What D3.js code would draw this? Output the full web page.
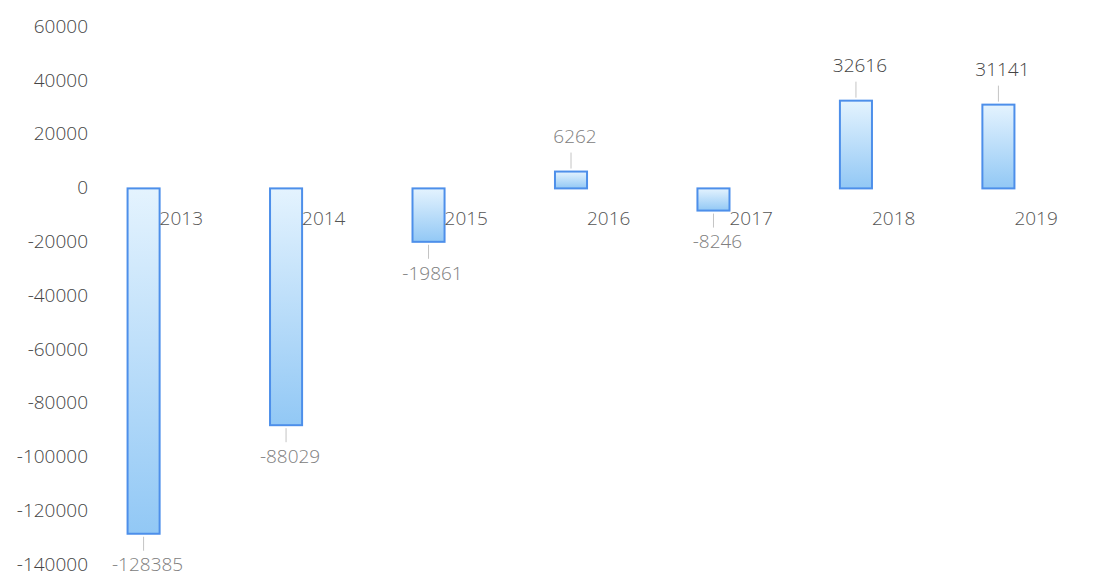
<!DOCTYPE html>
<html>
<head>
<meta charset="utf-8">
<script src="https://cdn.jsdelivr.net/npm/d3@7"></script>
<style>
    body { margin: 0; background: #fff; }
    text { font-family: "Open Sans", sans-serif; }
</style>
</head>
<body>
<div id="chart"></div>
<script>
// Chart data
const years = ['2013', '2014', '2015', '2016', '2017', '2018', '2019'];
const values = [-128385, -88029, -19861, 6262, -8246, 32616, 31141];
const yTicks = [60000, 40000, 20000, 0, -20000, -40000, -60000, -80000, -100000, -120000, -140000];

const width = 1096;
const height = 577;

const svg = d3.select('#chart')
    .append('svg')
    .attr('width', width)
    .attr('height', height);

// Gradient for the bars
const grad = svg.append('defs')
    .append('linearGradient')
    .attr('id', 'barGrad')
    .attr('x1', 0).attr('y1', 0)
    .attr('x2', 0).attr('y2', 1);
grad.append('stop').attr('offset', '0%').attr('stop-color', '#e4f3fe');
grad.append('stop').attr('offset', '100%').attr('stop-color', '#92c8f5');

const x = d3.scaleBand()
    .domain(years)
    .range([72, 1070])
    .paddingInner(0.775)
    .paddingOuter(0.39);

const y = d3.scaleLinear()
    .domain([-140000, 60000])
    .range([565, 27]);

// Y axis labels
svg.selectAll('.ytick')
    .data(yTicks)
    .enter()
    .append('text')
    .attr('class', 'ytick')
    .attr('x', 88)
    .attr('y', d => y(d))
    .attr('dy', '0.3em')
    .attr('text-anchor', 'end')
    .style('font-size', '19px')
    .style('font-weight', 300)
    .style('fill', '#444')
    .text(d => d);

const data = years.map((yr, i) => ({ year: yr, value: values[i] }));

// Bars
svg.selectAll('.bar')
    .data(data)
    .enter()
    .append('rect')
    .attr('class', 'bar')
    .attr('x', d => x(d.year))
    .attr('y', d => y(Math.max(0, d.value)))
    .attr('width', x.bandwidth())
    .attr('height', d => Math.abs(y(d.value) - y(0)))
    .attr('fill', 'url(#barGrad)')
    .attr('stroke', '#4d8fea')
    .attr('stroke-width', 2);

// Category labels next to the zero line
svg.selectAll('.cat')
    .data(data)
    .enter()
    .append('text')
    .attr('class', 'cat')
    .attr('x', d => x(d.year) + x.bandwidth())
    .attr('y', y(0) + 30)
    .attr('dy', '0.35em')
    .style('font-size', '19px')
    .style('font-weight', 300)
    .style('fill', '#555')
    .text(d => d.year);

// Leader lines
const offset = 32;
svg.selectAll('.leader')
    .data(data)
    .enter()
    .append('line')
    .attr('class', 'leader')
    .attr('x1', d => x(d.year) + x.bandwidth() / 2)
    .attr('x2', d => x(d.year) + x.bandwidth() / 2)
    .attr('y1', d => y(d.value) + (d.value < 0 ? 3 : -3))
    .attr('y2', d => y(d.value) + (d.value < 0 ? offset - 15 : -(offset - 13)))
    .attr('stroke', '#c4c4c4')
    .attr('stroke-width', 1);

// Value labels
svg.selectAll('.val')
    .data(data)
    .enter()
    .append('text')
    .attr('class', 'val')
    .attr('x', d => x(d.year) + x.bandwidth() / 2 + 4)
    .attr('y', d => y(d.value) + (d.value < 0 ? offset : -offset - 2))
    .attr('dy', '0.3em')
    .attr('text-anchor', 'middle')
    .style('font-size', '19px')
    .style('font-weight', 300)
    .style('fill', d => d.value > 10000 ? '#444' : '#808080')
    .text(d => d.value);
</script>
</body>
</html>
